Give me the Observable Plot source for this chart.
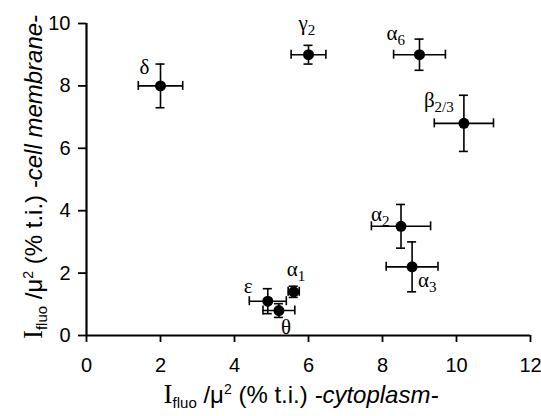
<!DOCTYPE html>
<html><head><meta charset="utf-8">
<script src="https://cdn.jsdelivr.net/npm/d3@7"></script>
<script src="https://cdn.jsdelivr.net/npm/@observablehq/plot@0.6"></script>
<style>body{margin:0;background:#fff} svg{display:block}</style>
</head><body><div id="chart"></div>
<script>
// Subunit labels (Greek letter + subscript)
const names = ["δ", "γ", "α", "β", "α", "α", "ε", "θ", "α"];
const subs = ["", "2", "6", "2/3", "2", "3", "", "", "1"];
// I_fluo/µ² (% t.i.) in cytoplasm (x) and cell membrane (y), with error values
const cytoplasm = [2.0, 6.0, 9.0, 10.2, 8.5, 8.8, 4.9, 5.2, 5.6];
const cytoplasmErr = [0.6, 0.47, 0.7, 0.8, 0.8, 0.7, 0.5, 0.43, 0.15];
const membrane = [8.0, 9.0, 9.0, 6.8, 3.5, 2.2, 1.1, 0.8, 1.4];
const membraneErr = [0.7, 0.3, 0.5, 0.9, 0.7, 0.8, 0.4, 0.22, 0.18];
const xTicks = [0, 2, 4, 6, 8, 10, 12];
const yTicks = [0, 2, 4, 6, 8, 10];
// label placement offsets in pixels (layout only)
const labelDx = [-21, -10, -33, -40, -30, 6, -24, 2, -7];
const labelDy = [-12, -25, -15, -16, -5, 20, -8, 23, -16];

const SANS = "'Liberation Sans', Arial, sans-serif";
const SERIF = "'Liberation Serif', 'Times New Roman', serif";

const data = names.map((n, i) => ({
  name: n, sub: subs[i],
  c: cytoplasm[i], ce: cytoplasmErr[i],
  m: membrane[i], me: membraneErr[i]
}));

const capHalf = -4.5;
const labelMarks = data.map((d, i) => Plot.text([d], {
  x: "c", y: "m",
  text: d => d.sub ? d.name + "_" + d.sub : d.name,
  dx: labelDx[i], dy: labelDy[i],
  textAnchor: "start", lineAnchor: "bottom",
  fill: "black"
}));

const chart = Plot.plot({
  width: 541, height: 416,
  marginLeft: 86, marginRight: 11, marginTop: 23, marginBottom: 81,
  style: {fontFamily: SANS, fontSize: "20px", background: "white", color: "black"},
  x: {domain: [0, 12]},
  y: {domain: [0, 10]},
  marks: [
    Plot.axisX({ticks: xTicks, tickSize: 7, tickPadding: 15, label: null, strokeWidth: 1.8}),
    Plot.axisY({ticks: yTicks, tickSize: 8, tickPadding: 8, label: null, strokeWidth: 1.8}),
    Plot.ruleY([0], {strokeWidth: 2.2}),
    Plot.ruleX([0], {strokeWidth: 2.2}),
    // horizontal error bars with caps
    Plot.ruleY(data, {y: "m", x1: d => d.c - d.ce, x2: d => d.c + d.ce, strokeWidth: 1.6}),
    Plot.ruleX(data, {x: d => d.c - d.ce, y1: "m", y2: "m", insetTop: capHalf, insetBottom: capHalf, strokeWidth: 1.6}),
    Plot.ruleX(data, {x: d => d.c + d.ce, y1: "m", y2: "m", insetTop: capHalf, insetBottom: capHalf, strokeWidth: 1.6}),
    // vertical error bars with caps
    Plot.ruleX(data, {x: "c", y1: d => d.m - d.me, y2: d => d.m + d.me, strokeWidth: 1.6}),
    Plot.ruleY(data, {y: d => d.m - d.me, x1: "c", x2: "c", insetLeft: capHalf, insetRight: capHalf, strokeWidth: 1.6}),
    Plot.ruleY(data, {y: d => d.m + d.me, x1: "c", x2: "c", insetLeft: capHalf, insetRight: capHalf, strokeWidth: 1.6}),
    Plot.dot(data, {x: "c", y: "m", r: 5.5, fill: "black", stroke: "none"}),
    ...labelMarks
  ]
});

document.getElementById("chart").appendChild(chart);
const svg = d3.select(chart);

svg.selectAll("text").each(function() {
  const t = d3.select(this);
  const s = this.textContent;
  if (/^[0-9.\-−]+$/.test(s)) {
    t.style("font-family", SANS).style("font-size", "20px");
  } else if (names.includes(s.split("_")[0])) {
    t.style("font-family", SERIF).style("font-size", "21px");
    if (s.includes("_")) {
      const [a, b] = s.split("_");
      t.text("");
      t.append("tspan").text(a);
      t.append("tspan").style("font-size", "15px").attr("dy", 5).text(b);
    }
  }
});

function title(sel, rest) {
  sel.style("font-family", SANS).style("font-size", "24px").attr("fill", "black").attr("text-anchor", "middle");
  sel.append("tspan").style("font-family", SERIF).style("font-size", "27px").text("I");
  sel.append("tspan").style("font-size", "15px").attr("dy", 5).text("fluo");
  sel.append("tspan").attr("dy", -5).text(" /μ");
  sel.append("tspan").style("font-size", "14px").attr("dy", -9).text("2");
  sel.append("tspan").attr("dy", 9).text(" (% t.i.) ");
  sel.append("tspan").style("font-style", "italic").text(rest);
}
title(svg.append("text").attr("x", 301).attr("y", 403), "-cytoplasm-");
title(svg.append("text").attr("transform", "translate(42,177) rotate(-90)"), "-cell membrane-");
</script>
</body></html>
